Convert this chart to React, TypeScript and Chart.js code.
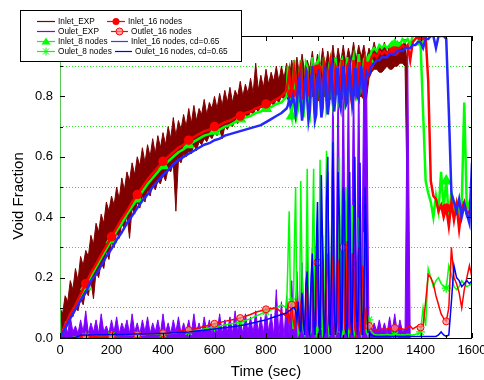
import React, { useEffect, useRef } from 'react';
import { Chart, registerables } from 'chart.js';

Chart.register(...registerables);

// ---------- time grids (sample instants, seconds) ----------
function grid(start: number, end: number, step: number): number[] {
  const out: number[] = [];
  for (let t = start; t <= end; t += step) out.push(t);
  return out;
}
const EXP_IN_TIME = grid(0, 1350, 10);
const EXP_OUT_TIME = grid(0, 1360, 10);
const SIM_TIME = [...grid(0, 860, 20), ...grid(880, 1195, 5), ...grid(1200, 1600, 10)];

// ---------- experiment: inlet band (upper / lower edge of the noisy signal) ----------
const INLET_EXP_HI = [
  0.10, 0.08, 0.14, 0.12, 0.19, 0.16, 0.23, 0.19, 0.27, 0.24,
  0.29, 0.27, 0.34, 0.31, 0.38, 0.35, 0.41, 0.38, 0.45, 0.42,
  0.47, 0.44, 0.50, 0.46, 0.53, 0.49, 0.55, 0.52, 0.58, 0.54,
  0.60, 0.57, 0.63, 0.58, 0.64, 0.60, 0.66, 0.61, 0.67, 0.63,
  0.68, 0.64, 0.70, 0.66, 0.73, 0.67, 0.72, 0.69, 0.74, 0.70,
  0.76, 0.71, 0.77, 0.72, 0.76, 0.74, 0.79, 0.74, 0.78, 0.76,
  0.80, 0.76, 0.81, 0.77, 0.82, 0.78, 0.83, 0.78, 0.82, 0.80,
  0.85, 0.80, 0.84, 0.81, 0.86, 0.81, 0.91, 0.82, 0.87, 0.83,
  0.89, 0.84, 0.88, 0.85, 0.90, 0.85, 0.90, 0.86, 0.91, 0.86,
  0.92, 0.87, 0.93, 0.87, 0.94, 0.88, 0.92, 0.89, 0.95, 0.88,
  0.94, 0.89, 0.96, 0.89, 0.95, 0.90, 0.97, 0.90, 0.96, 0.91,
  0.97, 0.91, 0.96, 0.92, 0.98, 0.92, 0.97, 0.93, 0.97, 0.92,
  0.96, 0.94, 0.98, 0.94, 0.97, 0.95, 0.98, 0.94, 0.97, 0.95,
  0.99, 0.95, 0.98, 0.96, 0.99, 0.88,
];
const INLET_EXP_LO = [
  0.04, 0.03, 0.06, 0.04, 0.08, 0.07, 0.10, 0.09, 0.13, 0.11,
  0.16, 0.14, 0.19, 0.13, 0.22, 0.20, 0.25, 0.23, 0.29, 0.26,
  0.32, 0.30, 0.35, 0.33, 0.38, 0.36, 0.41, 0.33, 0.43, 0.41,
  0.45, 0.43, 0.47, 0.45, 0.49, 0.47, 0.51, 0.49, 0.52, 0.51,
  0.54, 0.52, 0.56, 0.55, 0.58, 0.42, 0.59, 0.58, 0.61, 0.60,
  0.62, 0.61, 0.64, 0.62, 0.65, 0.64, 0.66, 0.65, 0.67, 0.66,
  0.68, 0.67, 0.69, 0.66, 0.70, 0.69, 0.71, 0.70, 0.72, 0.71,
  0.73, 0.72, 0.74, 0.73, 0.75, 0.74, 0.76, 0.75, 0.77, 0.76,
  0.77, 0.76, 0.78, 0.77, 0.79, 0.78, 0.80, 0.79, 0.80, 0.78,
  0.80, 0.80, 0.79, 0.78, 0.80, 0.81, 0.80, 0.79, 0.80, 0.80,
  0.79, 0.78, 0.80, 0.80, 0.79, 0.79, 0.80, 0.81, 0.80, 0.78,
  0.80, 0.80, 0.79, 0.79, 0.80, 0.81, 0.80, 0.80, 0.79, 0.79,
  0.86, 0.88, 0.89, 0.89, 0.88, 0.88, 0.89, 0.90, 0.89, 0.89,
  0.90, 0.90, 0.91, 0.91, 0.90, 0.36,
];
// outlet signal
const OUTLET_EXP = [
  0.06, 0.02, 0.05, 0.015, 0.07, 0.02, 0.04, 0.015, 0.06, 0.02,
  0.09, 0.015, 0.05, 0.02, 0.06, 0.015, 0.08, 0.02, 0.04, 0.015,
  0.06, 0.02, 0.07, 0.015, 0.05, 0.025, 0.06, 0.015, 0.08, 0.02,
  0.05, 0.015, 0.06, 0.02, 0.07, 0.015, 0.05, 0.02, 0.06, 0.015,
  0.08, 0.02, 0.05, 0.015, 0.06, 0.02, 0.07, 0.015, 0.05, 0.02,
  0.06, 0.015, 0.08, 0.02, 0.05, 0.015, 0.07, 0.02, 0.06, 0.015,
  0.05, 0.02, 0.08, 0.015, 0.06, 0.02, 0.07, 0.015, 0.09, 0.02,
  0.06, 0.015, 0.08, 0.02, 0.07, 0.015, 0.09, 0.02, 0.07, 0.015,
  0.10, 0.02, 0.08, 0.01, 0.16, 0.01, 0.12, 0.00, 0.14, 0.01,
  0.19, 0.00, 0.22, 0.01, 0.25, 0.00, 0.33, 0.01, 0.30, 0.00,
  0.36, 0.01, 0.34, 0.00, 0.55, 0.00, 0.91, 0.00, 0.90, 0.01,
  0.92, 0.00, 0.91, 0.00, 0.90, 0.01, 0.92, 0.00, 0.90, 0.91,
  0.03, 0.015, 0.05, 0.02, 0.06, 0.02, 0.05, 0.015, 0.07, 0.02,
  0.08, 0.015, 0.06, 0.02, 0.03, 0.96, 0.00,
];

// ---------- simulations: early (0-860 s), oscillating (880-1195 s), late (1200-1600 s) ----------
const INLET16_EARLY = [
  0, 0.04, 0.08, 0.11, 0.145, 0.18, 0.215, 0.245, 0.275, 0.305,
  0.335, 0.365, 0.395, 0.42, 0.45, 0.475, 0.5, 0.525, 0.545, 0.565,
  0.585, 0.6, 0.615, 0.63, 0.64, 0.655, 0.665, 0.675, 0.685, 0.69,
  0.7, 0.705, 0.715, 0.72, 0.73, 0.735, 0.745, 0.75, 0.76, 0.765,
  0.775, 0.78, 0.79, 0.8,
];
const INLET16_OSC = [
  0.82, 0.85, 0.88, 0.83, 0.81, 0.84, 0.89, 0.86, 0.80, 0.82,
  0.88, 0.90, 0.84, 0.79, 0.83, 0.89, 0.88, 0.81, 0.80, 0.86,
  0.90, 0.85, 0.79, 0.82, 0.89, 0.90, 0.83, 0.79, 0.84, 0.91,
  0.88, 0.80, 0.81, 0.88, 0.91, 0.85, 0.79, 0.83, 0.90, 0.89,
  0.81, 0.80, 0.87, 0.92, 0.86, 0.80, 0.82, 0.90, 0.91, 0.83,
  0.80, 0.86, 0.92, 0.88, 0.81, 0.83, 0.91, 0.91, 0.84, 0.82,
  0.88, 0.92, 0.89, 0.87,
];
const INLET16_LATE = [
  0.90, 0.93, 0.94, 0.93, 0.95, 0.94, 0.95, 0.94, 0.95, 0.96,
  0.95, 0.96, 0.96, 0.97, 0.96, 0.97, 0.92, 0.98, 0.99, 1.0,
  1.0, 0.99, 1.0, 0.85, 0.52, 0.47, 0.46, 0.42, 0.44, 0.40,
  0.43, 0.37, 0.45, 0.39, 0.44, 0.36, 0.43, 0.45, 0.41, 0.42,
  0.42,
];

const INLET8_EARLY = [
  0, 0.035, 0.075, 0.105, 0.14, 0.17, 0.205, 0.235, 0.265, 0.295,
  0.325, 0.355, 0.38, 0.41, 0.435, 0.46, 0.485, 0.51, 0.53, 0.55,
  0.57, 0.585, 0.6, 0.615, 0.625, 0.64, 0.65, 0.66, 0.67, 0.675,
  0.685, 0.69, 0.7, 0.705, 0.715, 0.725, 0.73, 0.735, 0.745, 0.75,
  0.76, 0.765, 0.775, 0.78,
];
const INLET8_OSC = [
  0.80, 0.90, 0.86, 0.76, 0.735, 0.82, 0.92, 0.84, 0.74, 0.76,
  0.88, 0.92, 0.80, 0.73, 0.78, 0.91, 0.90, 0.76, 0.74, 0.85,
  0.93, 0.84, 0.74, 0.77, 0.90, 0.92, 0.79, 0.75, 0.82, 0.93,
  0.88, 0.76, 0.78, 0.90, 0.92, 0.80, 0.77, 0.84, 0.93, 0.87,
  0.78, 0.80, 0.91, 0.92, 0.82, 0.79, 0.86, 0.93, 0.88, 0.80,
  0.82, 0.91, 0.93, 0.83, 0.81, 0.88, 0.94, 0.89, 0.83, 0.85,
  0.92, 0.93, 0.88, 0.90,
];
const INLET8_LATE = [
  0.92, 0.95, 0.96, 0.95, 0.97, 0.96, 0.97, 0.96, 0.97, 0.98,
  0.97, 0.98, 0.97, 0.99, 0.98, 0.99, 0.97, 1.0, 1.0, 1.0,
  0.98, 0.75, 0.52, 0.48, 0.45, 0.40, 0.47, 0.42, 0.55, 0.43,
  0.52, 0.40, 0.48, 0.42, 0.45, 0.41, 0.44, 0.78, 0.42, 0.45,
  0.43,
];

const INLETCD_EARLY = [
  0, 0.03, 0.065, 0.095, 0.125, 0.15, 0.19, 0.21, 0.24, 0.27,
  0.295, 0.325, 0.35, 0.38, 0.405, 0.43, 0.455, 0.475, 0.5, 0.52,
  0.54, 0.555, 0.575, 0.59, 0.6, 0.61, 0.62, 0.63, 0.64, 0.645,
  0.655, 0.66, 0.67, 0.675, 0.68, 0.685, 0.69, 0.695, 0.7, 0.705,
  0.715, 0.725, 0.735, 0.745,
];
const INLETCD_OSC = [
  0.76, 0.77, 0.79, 0.77, 0.78, 0.80, 0.78, 0.74, 0.77, 0.84,
  0.86, 0.78, 0.72, 0.76, 0.85, 0.87, 0.79, 0.72, 0.75, 0.86,
  0.88, 0.80, 0.72, 0.74, 0.86, 0.89, 0.81, 0.73, 0.76, 0.87,
  0.89, 0.80, 0.74, 0.78, 0.88, 0.90, 0.79, 0.75, 0.80, 0.89,
  0.89, 0.78, 0.76, 0.83, 0.90, 0.86, 0.77, 0.78, 0.87, 0.90,
  0.83, 0.77, 0.80, 0.89, 0.89, 0.80, 0.79, 0.85, 0.90, 0.86,
  0.81, 0.84, 0.88, 0.87,
];
const INLETCD_LATE = [
  0.87, 0.90, 0.91, 0.92, 0.92, 0.93, 0.93, 0.93, 0.94, 0.94,
  0.94, 0.95, 0.95, 0.95, 0.96, 0.96, 0.96, 0.97, 0.97, 0.98,
  0.98, 0.96, 0.99, 0.99, 1.0, 1.0, 0.96, 1.0, 1.0, 1.0,
  0.99, 0.75, 0.48, 0.45, 0.42, 0.46, 0.40, 0.44, 0.41, 0.38,
  0.58,
];

const OUTLET16_EARLY = [
  0, 0, 0, 0.002, 0.004, 0.005, 0.006, 0.006, 0.007, 0.007,
  0.008, 0.008, 0.009, 0.01, 0.01, 0.011, 0.012, 0.013, 0.014, 0.015,
  0.016, 0.018, 0.02, 0.022, 0.024, 0.026, 0.03, 0.034, 0.038, 0.043,
  0.047, 0.051, 0.055, 0.059, 0.062, 0.066, 0.072, 0.078, 0.085, 0.09,
  0.095, 0.098, 0.1, 0.085,
];
const OUTLET16_OSC = [
  0.07, 0.10, 0.05, 0.09, 0.11, 0.06, 0.04, 0.10, 0.12, 0.05,
  0.03, 0.11, 0.14, 0.05, 0.02, 0.12, 0.18, 0.05, 0.02, 0.15,
  0.22, 0.06, 0.01, 0.16, 0.25, 0.08, 0.01, 0.18, 0.26, 0.07,
  0.01, 0.20, 0.28, 0.06, 0.01, 0.22, 0.27, 0.05, 0.01, 0.24,
  0.25, 0.04, 0.02, 0.26, 0.30, 0.05, 0.01, 0.32, 0.24, 0.03,
  0.02, 0.28, 0.22, 0.03, 0.01, 0.26, 0.30, 0.04, 0.01, 0.24,
  0.20, 0.03, 0.10, 0.05,
];
const OUTLET16_LATE = [
  0.04, 0.028, 0.027, 0.028, 0.027, 0.03, 0.028, 0.03, 0.032, 0.03,
  0.033, 0.03, 0.032, 0.03, 0.028, 0.035, 0.04, 0.03, 0.035, 0.04,
  0.035, 0.04, 0.12, 0.21, 0.20, 0.18, 0.14, 0.11, 0.08, 0.065,
  0.055, 0.10, 0.30, 0.20, 0.18, 0.15, 0.10, 0.16, 0.20, 0.24,
  0.20,
];

const OUTLET8_EARLY = [
  0, 0, 0, 0.003, 0.005, 0.006, 0.006, 0.007, 0.007, 0.008,
  0.008, 0.008, 0.009, 0.009, 0.01, 0.01, 0.011, 0.012, 0.013, 0.013,
  0.014, 0.015, 0.016, 0.018, 0.019, 0.021, 0.024, 0.027, 0.03, 0.033,
  0.036, 0.04, 0.043, 0.046, 0.049, 0.053, 0.058, 0.064, 0.072, 0.08,
  0.087, 0.093, 0.1, 0.11,
];
const OUTLET8_OSC = [
  0.10, 0.25, 0.42, 0.12, 0.12, 0.03, 0.30, 0.50, 0.08, 0.01,
  0.02, 0.52, 0.20, 0.02, 0.01, 0.15, 0.56, 0.10, 0.01, 0.02,
  0.30, 0.56, 0.05, 0.01, 0.03, 0.20, 0.59, 0.12, 0.01, 0.02,
  0.25, 0.62, 0.08, 0.01, 0.02, 0.35, 0.65, 0.06, 0.01, 0.02,
  0.30, 0.60, 0.05, 0.01, 0.02, 0.28, 0.50, 0.04, 0.01, 0.03,
  0.25, 0.44, 0.03, 0.01, 0.02, 0.20, 0.40, 0.03, 0.01, 0.05,
  0.35, 0.10, 0.02, 0.01,
];
const OUTLET8_LATE = [
  0.06, 0.02, 0.012, 0.01, 0.01, 0.011, 0.01, 0.012, 0.01, 0.011,
  0.01, 0.012, 0.01, 0.011, 0.01, 0.012, 0.011, 0.01, 0.012, 0.015,
  0.02, 0.10, 0.04, 0.23, 0.20, 0.17, 0.19, 0.20, 0.18, 0.17,
  0.165, 0.24, 0.21, 0.17, 0.16, 0.17, 0.19, 0.18, 0.17, 0.175,
  0.18,
];

const OUTLETCD_EARLY = [
  0, 0, 0, 0.002, 0.009, 0.01, 0.01, 0.011, 0.011, 0.011,
  0.012, 0.012, 0.012, 0.012, 0.013, 0.013, 0.013, 0.014, 0.014, 0.015,
  0.015, 0.016, 0.017, 0.018, 0.019, 0.02, 0.022, 0.024, 0.026, 0.028,
  0.03, 0.032, 0.034, 0.036, 0.038, 0.041, 0.044, 0.048, 0.052, 0.056,
  0.06, 0.066, 0.072, 0.078,
];
const OUTLETCD_OSC = [
  0.083, 0.087, 0.09, 0.093, 0.096, 0.10, 0.10, 0.09, 0.06, 0.12,
  0.05, 0.02, 0.15, 0.06, 0.01, 0.18, 0.22, 0.03, 0.01, 0.20,
  0.28, 0.04, 0.01, 0.30, 0.45, 0.05, 0.01, 0.54, 0.30, 0.01,
  0.02, 0.45, 0.60, 0.05, 0.01, 0.30, 0.65, 0.10, 0.01, 0.05,
  0.55, 0.40, 0.01, 0.03, 0.50, 0.45, 0.02, 0.01, 0.40, 0.55,
  0.05, 0.01, 0.35, 0.60, 0.10, 0.01, 0.20, 0.58, 0.15, 0.01,
  0.10, 0.50, 0.30, 0.02,
];
const OUTLETCD_LATE = [
  0.02, 0.008, 0.006, 0.005, 0.005, 0.005, 0.005, 0.005, 0.005, 0.005,
  0.005, 0.005, 0.005, 0.005, 0.005, 0.005, 0.005, 0.005, 0.005, 0.005,
  0.005, 0.005, 0.005, 0.005, 0.005, 0.005, 0.005, 0.01, 0.02, 0.01,
  0.005, 0.01, 0.12, 0.24, 0.20, 0.19, 0.17, 0.18, 0.19, 0.18,
  0.19,
];

const X_TICKS = [0, 200, 400, 600, 800, 1000, 1200, 1400, 1600];
const Y_LABELS = ['0.0', '0.2', '0.4', '0.6', '0.8'];

const FONT = '"Liberation Sans", Arial, Helvetica, sans-serif';

function pts(times: number[], values: number[]) {
  const n = Math.min(times.length, values.length);
  const out: { x: number; y: number }[] = [];
  for (let i = 0; i < n; i++) out.push({ x: times[i], y: values[i] });
  return out;
}

const markerAt = (size: number) => (c: any) => {
  const r = c.raw;
  if (!r) return 0;
  return r.x >= 100 && r.x <= 1500 && r.x % 100 === 0 ? size : 0;
};

type Entry = { label: string; color: string; marker: string; row: number; l1: number; l2: number; tx: number };
const LEGEND: Entry[] = [
  { label: 'Inlet_EXP', color: '#800000', marker: 'none', row: 0, l1: 37, l2: 55, tx: 58 },
  { label: 'Oulet_EXP', color: '#8000ff', marker: 'none', row: 1, l1: 37, l2: 55, tx: 58 },
  { label: 'Inlet_8 nodes', color: '#00ff00', marker: 'triangle', row: 2, l1: 37, l2: 55, tx: 58 },
  { label: 'Oulet_8 nodes', color: '#00ff00', marker: 'star', row: 3, l1: 37, l2: 55, tx: 58 },
  { label: 'Inlet_16 nodes', color: '#ff0000', marker: 'circle', row: 0, l1: 107, l2: 125, tx: 128 },
  { label: 'Outlet_16 nodes', color: '#ff0000', marker: 'ocircle', row: 1, l1: 111, l2: 128, tx: 131 },
  { label: 'Inlet_16 nodes, cd=0.65', color: '#3a3aff', marker: 'none', row: 2, l1: 111, l2: 128, tx: 131 },
  { label: 'Oulet_16 nodes, cd=0.65', color: '#0000ff', marker: 'none', row: 3, l1: 115, l2: 132, tx: 135 },
];

function drawMarker(ctx: CanvasRenderingContext2D, kind: string, x: number, y: number, color: string) {
  ctx.save();
  ctx.fillStyle = color;
  ctx.strokeStyle = color;
  ctx.lineWidth = 1;
  if (kind === 'circle') {
    ctx.beginPath(); ctx.arc(x, y, 3.5, 0, Math.PI * 2); ctx.fill();
  } else if (kind === 'ocircle') {
    ctx.fillStyle = 'rgba(255,140,140,0.7)';
    ctx.beginPath(); ctx.arc(x, y, 3.5, 0, Math.PI * 2); ctx.fill(); ctx.stroke();
  } else if (kind === 'triangle') {
    ctx.beginPath(); ctx.moveTo(x, y - 4); ctx.lineTo(x + 4.5, y + 3); ctx.lineTo(x - 4.5, y + 3); ctx.closePath(); ctx.fill();
  } else if (kind === 'star') {
    ctx.beginPath();
    ctx.moveTo(x - 4, y); ctx.lineTo(x + 4, y);
    ctx.moveTo(x, y - 4); ctx.lineTo(x, y + 4);
    ctx.moveTo(x - 3, y - 3); ctx.lineTo(x + 3, y + 3);
    ctx.moveTo(x - 3, y + 3); ctx.lineTo(x + 3, y - 3);
    ctx.stroke();
  }
  ctx.restore();
}

const decorPlugin = {
  id: 'decor',
  afterDatasetsDraw(chart: any) {
    const { ctx, chartArea: a, scales } = chart;
    const xs = scales.x, ys = scales.y;
    ctx.save();
    ctx.lineWidth = 1;
    ctx.strokeStyle = '#000';
    ctx.beginPath();
    ctx.moveTo(a.left, a.top + 0.5); ctx.lineTo(a.right, a.top + 0.5);
    ctx.moveTo(a.right - 0.5, a.top); ctx.lineTo(a.right - 0.5, a.bottom);
    ctx.moveTo(a.left, a.bottom + 0.5); ctx.lineTo(a.right, a.bottom + 0.5);
    ctx.stroke();
    ctx.strokeStyle = '#55c855';
    ctx.beginPath();
    ctx.moveTo(a.left + 0.5, a.top); ctx.lineTo(a.left + 0.5, a.bottom + 1);
    ctx.stroke();
    ctx.strokeStyle = '#000';
    ctx.beginPath();
    for (let k = 0; k <= 10; k++) {
      const y = Math.round(ys.getPixelForValue(k / 10)) + 0.5;
      const len = k % 2 === 0 ? 5 : 3;
      ctx.moveTo(a.left, y); ctx.lineTo(a.left + len, y);
      ctx.moveTo(a.right, y); ctx.lineTo(a.right - len, y);
    }
    for (let t = 0; t <= 1600; t += 100) {
      const x = Math.round(xs.getPixelForValue(t)) + 0.5;
      const len = t % 200 === 0 ? 5 : 3;
      ctx.moveTo(x, a.bottom); ctx.lineTo(x, a.bottom - len);
      ctx.moveTo(x, a.top); ctx.lineTo(x, a.top + len);
    }
    ctx.stroke();
    ctx.restore();
  },
  afterDraw(chart: any) {
    const ctx: CanvasRenderingContext2D = chart.ctx;
    ctx.save();
    ctx.fillStyle = '#fff';
    ctx.fillRect(20.5, 10.5, 221, 51);
    ctx.strokeStyle = '#000';
    ctx.lineWidth = 1;
    ctx.strokeRect(20.5, 10.5, 221, 51);
    ctx.font = `9.5px ${FONT}`;
    ctx.textBaseline = 'middle';
    ctx.textAlign = 'left';
    for (const e of LEGEND) {
      const y = 21 + e.row * 10;
      ctx.strokeStyle = e.color;
      ctx.lineWidth = 1.2;
      ctx.beginPath(); ctx.moveTo(e.l1, y + 0.5); ctx.lineTo(e.l2, y + 0.5); ctx.stroke();
      if (e.marker !== 'none') drawMarker(ctx, e.marker, (e.l1 + e.l2) / 2, y + 0.5, e.color);
      ctx.fillStyle = '#000';
      const w = ctx.measureText(e.label).width;
      ctx.fillText(e.label, e.tx, y + 0.5, w * 0.87);
    }
    ctx.fillStyle = '#000';
    ctx.font = `15px ${FONT}`;
    ctx.textAlign = 'center';
    ctx.textBaseline = 'middle';
    ctx.fillText('Time (sec)', 266, 372);
    ctx.translate(19, 196);
    ctx.rotate(-Math.PI / 2);
    ctx.fillText('Void Fraction', 0, 0);
    ctx.restore();
  },
};

export default function App() {
  const ref = useRef<HTMLCanvasElement>(null);
  useEffect(() => {
    const canvas = ref.current;
    if (!canvas) return;
    const sim = (a: number[], b: number[], c: number[]) => pts(SIM_TIME, [...a, ...b, ...c]);
    const datasets: any[] = [
      {
        label: 'Inlet_EXP', data: pts(EXP_IN_TIME, INLET_EXP_HI), borderColor: '#800000',
        backgroundColor: '#800000', fill: '+1', borderWidth: 1, pointRadius: 0, order: 9,
      },
      {
        label: 'Inlet_EXP (lower)', data: pts(EXP_IN_TIME, INLET_EXP_LO), borderColor: '#800000',
        borderWidth: 1, pointRadius: 0, order: 9,
      },
      {
        label: 'Oulet_EXP', data: pts(EXP_OUT_TIME, OUTLET_EXP), borderColor: '#8000ff',
        backgroundColor: '#8000ff', fill: 'origin', borderWidth: 1, pointRadius: 0, order: 7,
      },
      {
        label: 'Inlet_8 nodes', data: sim(INLET8_EARLY, INLET8_OSC, INLET8_LATE), borderColor: '#00ff00',
        backgroundColor: '#00ff00', borderWidth: 2.5, pointStyle: 'triangle', pointRadius: markerAt(4.5), order: 6,
      },
      {
        label: 'Oulet_8 nodes', data: sim(OUTLET8_EARLY, OUTLET8_OSC, OUTLET8_LATE), borderColor: '#00ff00',
        backgroundColor: '#00ff00', borderWidth: 1.5, pointStyle: 'star', pointRadius: markerAt(4.5), pointBorderWidth: 1.2, order: 5,
      },
      {
        label: 'Inlet_16 nodes', data: sim(INLET16_EARLY, INLET16_OSC, INLET16_LATE), borderColor: '#ff0000',
        backgroundColor: '#ff0000', borderWidth: 2.5, pointStyle: 'circle', pointRadius: markerAt(3.5), order: 4,
      },
      {
        label: 'Outlet_16 nodes', data: sim(OUTLET16_EARLY, OUTLET16_OSC, OUTLET16_LATE), borderColor: '#ff0000',
        backgroundColor: 'rgba(255,140,140,0.7)', borderWidth: 1.5, pointStyle: 'circle', pointRadius: markerAt(3.5), pointBorderWidth: 1, order: 3,
      },
      {
        label: 'Inlet_16 nodes, cd=0.65', data: sim(INLETCD_EARLY, INLETCD_OSC, INLETCD_LATE), borderColor: '#2626ff',
        borderWidth: 2.5, pointRadius: 0, order: 2,
      },
      {
        label: 'Oulet_16 nodes, cd=0.65', data: sim(OUTLETCD_EARLY, OUTLETCD_OSC, OUTLETCD_LATE), borderColor: '#0000ff',
        borderWidth: 1.5, pointRadius: 0, order: 1,
      },
    ];
    const chart = new Chart(canvas, {
      type: 'line',
      data: { datasets },
      options: {
        animation: false,
        responsive: false,
        devicePixelRatio: 1,
        events: [],
        layout: { padding: { left: 0, right: 12, top: 36, bottom: 0 } },
        elements: { line: { tension: 0, fill: false }, point: { hitRadius: 0, hoverRadius: 0 } },
        plugins: { legend: { display: false }, tooltip: { enabled: false }, filler: { propagate: false } },
        scales: {
          x: {
            type: 'linear', min: 0, max: 1600,
            afterBuildTicks: (s: any) => { s.ticks = X_TICKS.map((v) => ({ value: v })); },
            ticks: {
              color: '#000', font: { size: 13, family: FONT }, padding: 5, maxRotation: 0, autoSkip: false,
              callback: (v: any) => String(v),
            },
            grid: { display: false, drawTicks: false },
            border: { display: false },
            afterFit: (s: any) => { s.height = 42; s.paddingLeft = 0; s.paddingRight = 0; },
          },
          y: {
            type: 'linear', min: 0, max: 1,
            ticks: {
              stepSize: 0.1, autoSkip: false, color: '#000', padding: 7,
              font: { size: 13, family: FONT },
              callback: (v: any) => { const k = Math.round(Number(v) * 10); return k % 2 === 0 && k / 2 < Y_LABELS.length ? Y_LABELS[k / 2] : ''; },
            },
            grid: {
              drawTicks: false, lineWidth: 1,
              color: (c: any) => { const k = Math.round((c.tick ? c.tick.value : 0) * 10); return k % 2 === 1 ? '#22e622' : 'rgba(0,0,0,0)'; },
            },
            border: { display: false, dash: [1, 2] },
            afterFit: (s: any) => { s.width = 60; s.paddingTop = 0; s.paddingBottom = 0; },
          },
        },
      },
      plugins: [decorPlugin],
    } as any);
    return () => chart.destroy();
  }, []);
  return (
    <div style={{ position: 'fixed', left: 0, top: 0, width: 484, height: 380, background: '#fff' }}>
      <canvas ref={ref} width={484} height={380} style={{ width: 484, height: 380, display: 'block' }} />
    </div>
  );
}
